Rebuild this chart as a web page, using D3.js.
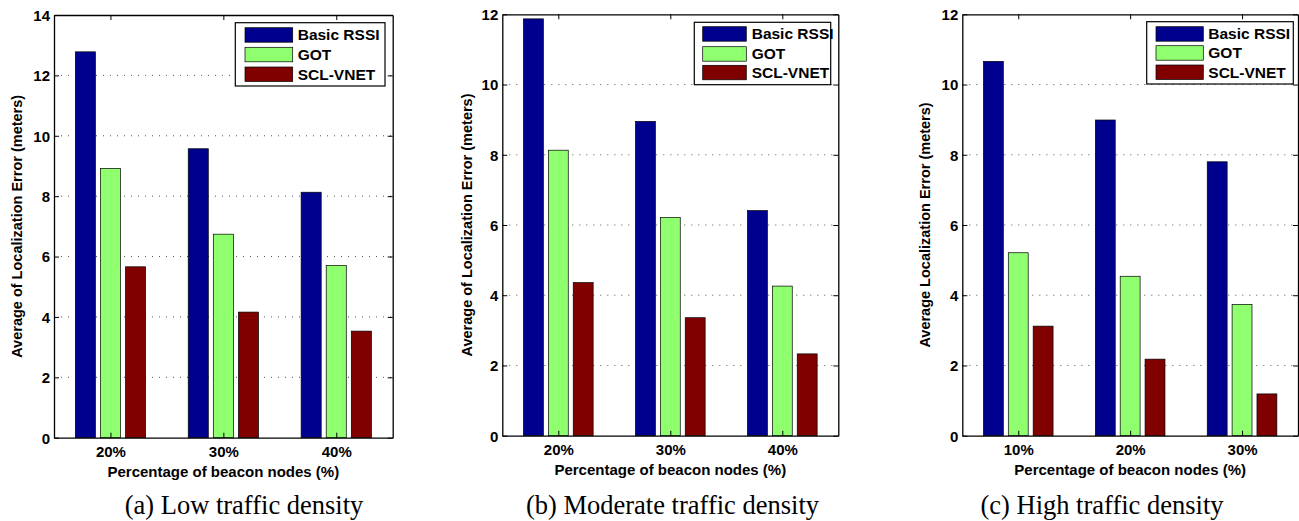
<!DOCTYPE html>
<html>
<head>
<meta charset="utf-8">
<script src="https://cdn.jsdelivr.net/npm/d3@7/dist/d3.min.js"></script>
<style>
  html, body { margin: 0; padding: 0; background: #fff; }
  svg { display: block; }
  .sans { font-family: "Liberation Sans", Arial, Helvetica, sans-serif; font-weight: bold; }
  .serif { font-family: "Liberation Serif", "Times New Roman", Times, serif; }
</style>
</head>
<body>
<svg id="chart" width="1299" height="521"></svg>
<script>
// ---------------- DATA ----------------
const seriesNames = ["Basic RSSI", "GOT", "SCL-VNET"];

const categoriesA = ["20%", "30%", "40%"];
const basicA = [12.78, 9.57, 8.13];
const gotA   = [8.92, 6.74, 5.70];
const sclA   = [5.66, 4.16, 3.53];
const yTicksA = [0, 2, 4, 6, 8, 10, 12, 14];

const categoriesB = ["20%", "30%", "40%"];
const basicB = [11.87, 8.95, 6.41];
const gotB   = [8.13, 6.21, 4.26];
const sclB   = [4.36, 3.36, 2.33];
const yTicksB = [0, 2, 4, 6, 8, 10, 12];

const categoriesC = ["10%", "20%", "30%"];
const basicC = [10.66, 8.99, 7.80];
const gotC   = [5.21, 4.54, 3.74];
const sclC   = [3.12, 2.18, 1.19];
const yTicksC = [0, 2, 4, 6, 8, 10, 12];

const yLabelA = "Average of Localization Error (meters)";
const yLabelB = "Average of Localization Error (meters)";
const yLabelC = "Average Localization Error (meters)";
const xLabel = "Percentage of beacon nodes (%)";
const captionA = "(a) Low traffic density";
const captionB = "(b) Moderate traffic density";
const captionC = "(c) High traffic density";

// ---------------- STYLE / LAYOUT ----------------
const colors = ["#00008F", "#8FFF6F", "#800000"];

const panels = [
  { cats: categoriesA, series: [basicA, gotA, sclA], ticks: yTicksA, yLabel: yLabelA, caption: captionA,
    left: 54, right: 392.7, top: 15, bottom: 437.7, yLabelX: 21.5, capX: 244,
    leg: { x: 235.3, y: 22.7, w: 149.7, h: 63.3, swX: 245, swW: 47.7, swH: 14.5, textX: 297.7, rows: [27.7, 47.3, 67] } },
  { cats: categoriesB, series: [basicB, gotB, sclB], ticks: yTicksB, yLabel: yLabelB, caption: captionB,
    left: 502.3, right: 838.3, top: 14.3, bottom: 435.7, yLabelX: 471.5, capX: 672.5,
    leg: { x: 694.3, y: 22.3, w: 136.4, h: 62.4, swX: 702.7, swW: 43.6, swH: 14.5, textX: 751.7, rows: [26.7, 46.7, 65.3] } },
  { cats: categoriesC, series: [basicC, gotC, sclC], ticks: yTicksC, yLabel: yLabelC, caption: captionC,
    left: 962.3, right: 1298, top: 14.3, bottom: 435.7, yLabelX: 929.5, capX: 1102,
    leg: { x: 1146.7, y: 21.7, w: 146.6, h: 62.3, swX: 1156, swW: 47.3, swH: 14.5, textX: 1208.3, rows: [26.7, 45.7, 65] } }
];

const svg = d3.select("#chart");
const FS = 15;

panels.forEach(p => {
  const g = svg.append("g");
  const nS = p.series.length;
  const yMax = d3.max(p.ticks);
  const x = d3.scaleLinear().domain([0.5, p.cats.length + 0.5]).range([p.left, p.right]);
  const y = d3.scaleLinear().domain([0, yMax]).range([p.bottom, p.top]);

  // MATLAB grouped bar geometry
  const groupW = Math.min(0.8, nS / (nS + 1.5));
  const step = groupW / nS;
  const barW = step * 0.8;

  // grid (dotted)
  g.append("g").selectAll("line")
    .data(p.ticks.filter(t => t > 0 && t < yMax))
    .join("line")
    .attr("x1", p.left).attr("x2", p.right)
    .attr("y1", d => y(d)).attr("y2", d => y(d))
    .attr("stroke", "#555").attr("stroke-width", 1)
    .attr("stroke-dasharray", "1,6");

  // bars
  p.series.forEach((vals, j) => {
    g.append("g").selectAll("rect")
      .data(vals)
      .join("rect")
      .attr("x", (d, i) => x(i + 1 + (j - (nS - 1) / 2) * step - barW / 2))
      .attr("width", x(barW) - x(0))
      .attr("y", d => y(d))
      .attr("height", d => y(0) - y(d))
      .attr("fill", colors[j])
      .attr("stroke", "#000").attr("stroke-width", 0.7);
  });

  // axes
  const axL = d3.axisLeft(y).tickValues(p.ticks).tickSizeInner(-5).tickSizeOuter(0).tickPadding(4).tickFormat(d3.format("d"));
  const axR = d3.axisRight(y).tickValues(p.ticks).tickSizeInner(-5).tickSizeOuter(0).tickFormat("");
  const axB = d3.axisBottom(x).tickValues(d3.range(1, p.cats.length + 1)).tickSizeInner(-5).tickSizeOuter(0).tickPadding(9)
    .tickFormat((d) => p.cats[d - 1]);
  const axT = d3.axisTop(x).tickValues(d3.range(1, p.cats.length + 1)).tickSizeInner(-5).tickSizeOuter(0).tickFormat("");

  const gl = g.append("g").attr("transform", `translate(${p.left},0)`).call(axL);
  const gr = g.append("g").attr("transform", `translate(${p.right},0)`).call(axR);
  const gb = g.append("g").attr("transform", `translate(0,${p.bottom})`).call(axB);
  const gt = g.append("g").attr("transform", `translate(0,${p.top})`).call(axT);
  [gl, gr, gb, gt].forEach(a => {
    a.selectAll("path.domain").attr("stroke", "#000").attr("stroke-width", 1.3);
    a.selectAll(".tick line").attr("stroke", "#000").attr("stroke-width", 1);
    a.selectAll("text").attr("class", "sans").attr("font-size", FS).attr("fill", "#000")
      .style("font-family", '"Liberation Sans", Arial, Helvetica, sans-serif').style("font-weight", "bold");
  });
  gl.selectAll(".tick text").attr("dy", "0.36em");
  gb.selectAll(".tick text").attr("dy", "0.71em");

  // y label
  g.append("text").attr("class", "sans")
    .attr("transform", `translate(${p.yLabelX},${(p.top + p.bottom) / 2}) rotate(-90)`)
    .attr("text-anchor", "middle").attr("font-size", 14.5).text(p.yLabel);

  // x label
  g.append("text").attr("class", "sans")
    .attr("x", (p.left + p.right) / 2).attr("y", p.bottom + 39)
    .attr("text-anchor", "middle").attr("font-size", FS).text(xLabel);

  // caption
  g.append("text").attr("class", "serif")
    .attr("x", p.capX).attr("y", 513.5)
    .attr("text-anchor", "middle").attr("font-size", 26.5).text(p.caption);

  // legend
  const L = p.leg;
  const lg = g.append("g");
  lg.append("rect").attr("x", L.x).attr("y", L.y).attr("width", L.w).attr("height", L.h)
    .attr("fill", "#fff").attr("stroke", "#000").attr("stroke-width", 1.2);
  const rows = lg.selectAll("g.row").data(seriesNames).join("g").attr("class", "row");
  rows.append("rect")
    .attr("x", L.swX).attr("y", (d, i) => L.rows[i]).attr("width", L.swW).attr("height", L.swH)
    .attr("fill", (d, i) => colors[i]).attr("stroke", "#000").attr("stroke-width", 0.7);
  rows.append("text").attr("class", "sans")
    .attr("x", L.textX).attr("y", (d, i) => L.rows[i] + L.swH / 2 + 5.5)
    .attr("font-size", 15.5).text(d => d);
});
</script>
</body>
</html>
